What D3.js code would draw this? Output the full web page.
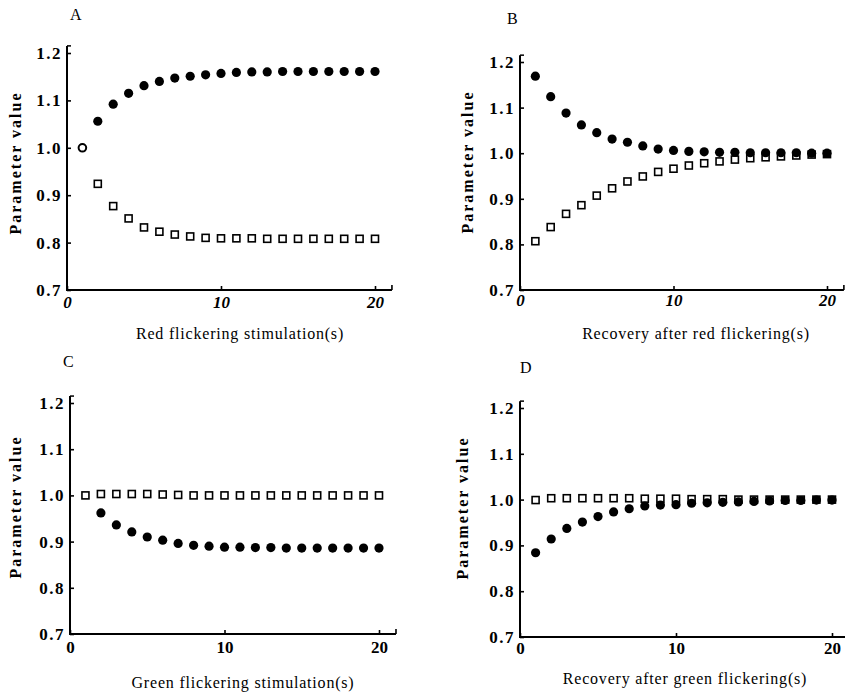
<!DOCTYPE html>
<html>
<head>
<meta charset="utf-8">
<script src="https://cdn.jsdelivr.net/npm/d3@7"></script>
<style>
  body { margin: 0; background: #fff; }
  svg { display: block; }
</style>
</head>
<body>
<svg id="chart"></svg>
<script>
var width = 845,
    height = 697;

var serif = "'Liberation Serif', 'DejaVu Serif', serif";

// seconds (x values shared by all four panels)
var seconds = [1, 2, 3, 4, 5, 6, 7, 8, 9, 10, 11, 12, 13, 14, 15, 16, 17, 18, 19, 20];
var xTicks = [0, 10, 20];
var yTicks = [0.7, 0.8, 0.9, 1.0, 1.1, 1.2];

// A: red flickering stimulation
var aFilled = [null, 1.056, 1.092, 1.115, 1.131, 1.140, 1.147, 1.151, 1.154, 1.157,
               1.159, 1.160, 1.160, 1.161, 1.161, 1.161, 1.161, 1.161, 1.161, 1.161];
var aSquare = [null, 0.924, 0.877, 0.851, 0.832, 0.823, 0.817, 0.813, 0.810, 0.809,
               0.809, 0.809, 0.808, 0.808, 0.808, 0.808, 0.808, 0.808, 0.808, 0.808];
var aOpen = [1.0, null, null, null, null, null, null, null, null, null,
             null, null, null, null, null, null, null, null, null, null];

// B: recovery after red flickering
var bFilled = [1.169, 1.124, 1.088, 1.062, 1.045, 1.031, 1.024, 1.016, 1.009, 1.006,
               1.004, 1.003, 1.002, 1.002, 1.001, 1.001, 1.001, 1.001, 1.000, 1.000];
var bSquare = [0.807, 0.838, 0.867, 0.886, 0.907, 0.923, 0.938, 0.949, 0.959, 0.966,
               0.973, 0.978, 0.982, 0.986, 0.989, 0.991, 0.993, 0.995, 0.997, 0.998];

// C: green flickering stimulation
var cFilled = [null, 0.962, 0.936, 0.921, 0.910, 0.903, 0.896, 0.892, 0.890, 0.888,
               0.888, 0.887, 0.887, 0.886, 0.886, 0.886, 0.886, 0.886, 0.886, 0.886];
var cSquare = [1.000, 1.003, 1.003, 1.003, 1.003, 1.002, 1.001, 1.000, 1.000, 1.000,
               1.000, 1.000, 1.000, 1.000, 1.000, 1.000, 1.000, 1.000, 1.000, 1.000];

// D: recovery after green flickering
var dFilled = [0.884, 0.914, 0.937, 0.951, 0.963, 0.973, 0.980, 0.986, 0.988, 0.989,
               0.992, 0.993, 0.994, 0.995, 0.996, 0.997, 0.998, 0.998, 0.999, 0.999];
var dSquare = [0.999, 1.003, 1.003, 1.003, 1.003, 1.003, 1.003, 1.002, 1.002, 1.002,
               1.001, 1.001, 1.001, 1.000, 1.000, 1.000, 1.000, 1.000, 1.000, 1.000];

var panels = [
  {label: "A", title: "Red flickering stimulation(s)", filled: aFilled, square: aSquare, open: aOpen,
   x0: 67, x1: 375, yBot: 290, yTop: 53, italic: true,
   lab: [70, 20], ytl: [15, 163], xtl: [240, 339], tickDy: 22},
  {label: "B", title: "Recovery after red flickering(s)", filled: bFilled, square: bSquare, open: null,
   x0: 520, x1: 827, yBot: 290, yTop: 62, italic: true,
   lab: [507, 24], ytl: [467, 162], xtl: [696, 339], tickDy: 20},
  {label: "C", title: "Green flickering stimulation(s)", filled: cFilled, square: cSquare, open: null,
   x0: 70, x1: 379, yBot: 634, yTop: 403, italic: false,
   lab: [63, 367], ytl: [15, 507], xtl: [243, 688], tickDy: 23},
  {label: "D", title: "Recovery after green flickering(s)", filled: dFilled, square: dSquare, open: null,
   x0: 520, x1: 832, yBot: 637, yTop: 408, italic: false,
   lab: [520, 373], ytl: [462, 508], xtl: [685, 684], tickDy: 21}
];

var svg = d3.select("#chart")
    .attr("width", width)
    .attr("height", height)
    .style("font-family", serif);

panels.forEach(function(p) {
  var x = d3.scaleLinear().domain([0, 20]).range([p.x0, p.x1]);
  var y = d3.scaleLinear().domain([0.7, 1.2]).range([p.yBot, p.yTop]);
  var g = svg.append("g");

  // y axis: ticks point inward, labels on the left
  var yAxis = g.append("g")
      .attr("transform", "translate(" + p.x0 + ",0)")
      .call(d3.axisLeft(y).tickValues(yTicks).tickFormat(d3.format(".1f"))
            .tickSize(-4).tickPadding(5));
  yAxis.attr("font-family", null).style("font-family", serif);
  yAxis.select(".domain").remove();
  yAxis.selectAll(".tick line").attr("stroke-width", 1.6);
  yAxis.selectAll(".tick text")
      .style("font-family", serif)
      .style("font-size", "17px")
      .style("font-weight", "bold")
      .style("letter-spacing", "1.5px")
      .attr("fill", "#000");

  // x axis
  var xAxis = g.append("g")
      .attr("transform", "translate(0," + p.yBot + ")")
      .call(d3.axisBottom(x).tickValues(xTicks).tickFormat(d3.format("d"))
            .tickSize(-4).tickPadding(p.tickDy - 16));
  xAxis.attr("font-family", null).style("font-family", serif);
  xAxis.select(".domain").remove();
  xAxis.selectAll(".tick line").attr("stroke-width", 1.6);
  xAxis.selectAll(".tick text")
      .style("font-family", serif)
      .style("font-size", "17px")
      .style("font-weight", "bold")
      .style("font-style", p.italic ? "italic" : "normal")
      .attr("fill", "#000");

  // axis lines
  g.append("line")
      .attr("x1", x(0)).attr("x2", x(0))
      .attr("y1", y(0.7)).attr("y2", y(1.215))
      .attr("stroke", "#000").attr("stroke-width", 2);
  g.append("line")
      .attr("x1", x(0)).attr("x2", x(0) + 4)
      .attr("y1", y(1.215)).attr("y2", y(1.215))
      .attr("stroke", "#000").attr("stroke-width", 1.5);
  g.append("line")
      .attr("x1", x(0) - 1).attr("x2", x(21.1))
      .attr("y1", y(0.7)).attr("y2", y(0.7))
      .attr("stroke", "#000").attr("stroke-width", 2);
  g.append("line")
      .attr("x1", x(21.1)).attr("x2", x(21.1))
      .attr("y1", y(0.7)).attr("y2", y(0.7) - 5)
      .attr("stroke", "#000").attr("stroke-width", 1.6);

  // open squares
  g.selectAll("rect.sq")
      .data(seconds.map(function(s, i) { return {s: s, v: p.square[i]}; })
                   .filter(function(d) { return d.v != null; }))
      .enter().append("rect")
      .attr("class", "sq")
      .attr("x", function(d) { return x(d.s) - 3.5; })
      .attr("y", function(d) { return y(d.v) - 3.5; })
      .attr("width", 7).attr("height", 7)
      .attr("fill", "#fff")
      .attr("stroke", "#000")
      .attr("stroke-width", 1.6);

  // filled circles
  g.selectAll("circle.dot")
      .data(seconds.map(function(s, i) { return {s: s, v: p.filled[i]}; })
                   .filter(function(d) { return d.v != null; }))
      .enter().append("circle")
      .attr("class", "dot")
      .attr("cx", function(d) { return x(d.s); })
      .attr("cy", function(d) { return y(d.v); })
      .attr("r", 4.6)
      .attr("fill", "#000");

  // open circle (starting point in A)
  if (p.open) {
    g.selectAll("circle.open")
        .data(seconds.map(function(s, i) { return {s: s, v: p.open[i]}; })
                     .filter(function(d) { return d.v != null; }))
        .enter().append("circle")
        .attr("class", "open")
        .attr("cx", function(d) { return x(d.s); })
        .attr("cy", function(d) { return y(d.v); })
        .attr("r", 3.8)
        .attr("fill", "#fff")
        .attr("stroke", "#000")
        .attr("stroke-width", 2);
  }

  // panel letter
  g.append("text")
      .attr("x", p.lab[0]).attr("y", p.lab[1])
      .style("font-size", "16px")
      .text(p.label);

  // y title
  g.append("text")
      .attr("transform", "translate(" + (p.ytl[0] + 6) + "," + p.ytl[1] + ") rotate(-90)")
      .attr("text-anchor", "middle")
      .style("font-size", "16px")
      .style("font-weight", "bold")
      .style("letter-spacing", "2px")
      .text("Parameter value");

  // x title
  g.append("text")
      .attr("x", p.xtl[0]).attr("y", p.xtl[1])
      .attr("text-anchor", "middle")
      .style("font-size", "16px")
      .style("letter-spacing", "0.8px")
      .text(p.title);
});
</script>
</body>
</html>
